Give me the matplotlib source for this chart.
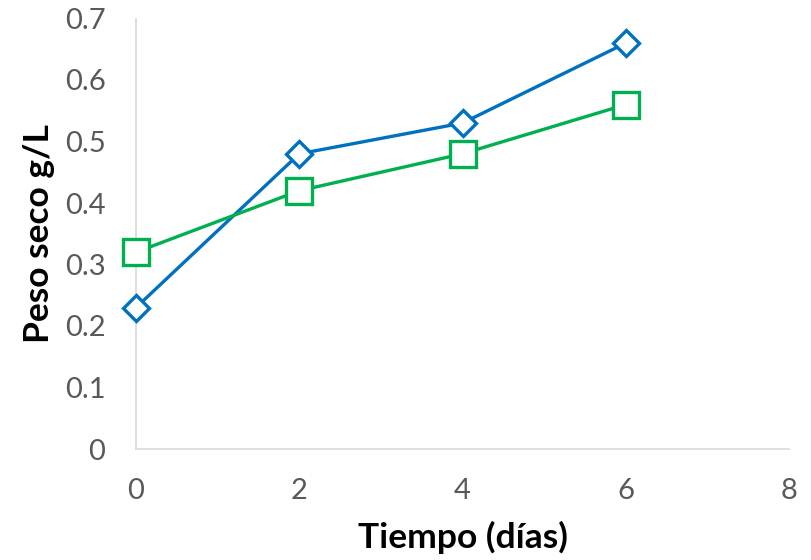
import matplotlib.pyplot as plt

plt.rcParams['font.family'] = ['Lato', 'DejaVu Sans']

dias = [0, 2, 4, 6]
serie_azul = [0.23, 0.48, 0.53, 0.66]
serie_verde = [0.32, 0.42, 0.48, 0.56]
x_ticks = [0, 2, 4, 6, 8]
y_ticks = [0, 0.1, 0.2, 0.3, 0.4, 0.5, 0.6, 0.7]

fig = plt.figure(figsize=(8.11, 5.6), dpi=100)
ax = fig.add_axes([136 / 811, 111 / 560, (789 - 136) / 811, (449 - 18.5) / 560])

ax.plot(dias, serie_azul, color='#0070C0', lw=2.4, marker='D', ms=13.5,
        mfc='white', mec='#0070C0', mew=2.4, clip_on=False, zorder=3)
ax.plot(dias, serie_verde, color='#00B050', lw=2.4, marker='s', ms=19,
        mfc='white', mec='#00B050', mew=2.4, clip_on=False, zorder=3)

ax.set_xlim(0, 8)
ax.set_ylim(0, 0.7)
ax.set_xticks(x_ticks)
ax.set_xticklabels([str(v) for v in x_ticks])
ax.set_yticks(y_ticks)
ax.set_yticklabels(['0'] + [f'{v:.1f}' for v in y_ticks[1:]])

for side in ('top', 'right'):
    ax.spines[side].set_visible(False)
for side in ('left', 'bottom'):
    ax.spines[side].set_color('#D9D9D9')
    ax.spines[side].set_linewidth(1.2)

ax.tick_params(length=0, labelsize=21, labelcolor='#595959')
ax.tick_params(axis='x', pad=21)
ax.tick_params(axis='y', pad=22)

ax.set_xlabel('Tiempo (días)', fontsize=25.5, fontweight='bold', labelpad=12)
ax.set_ylabel('Peso seco g/L', fontsize=25.5, fontweight='bold', labelpad=7)

fig.savefig('out.png', dpi=100)
